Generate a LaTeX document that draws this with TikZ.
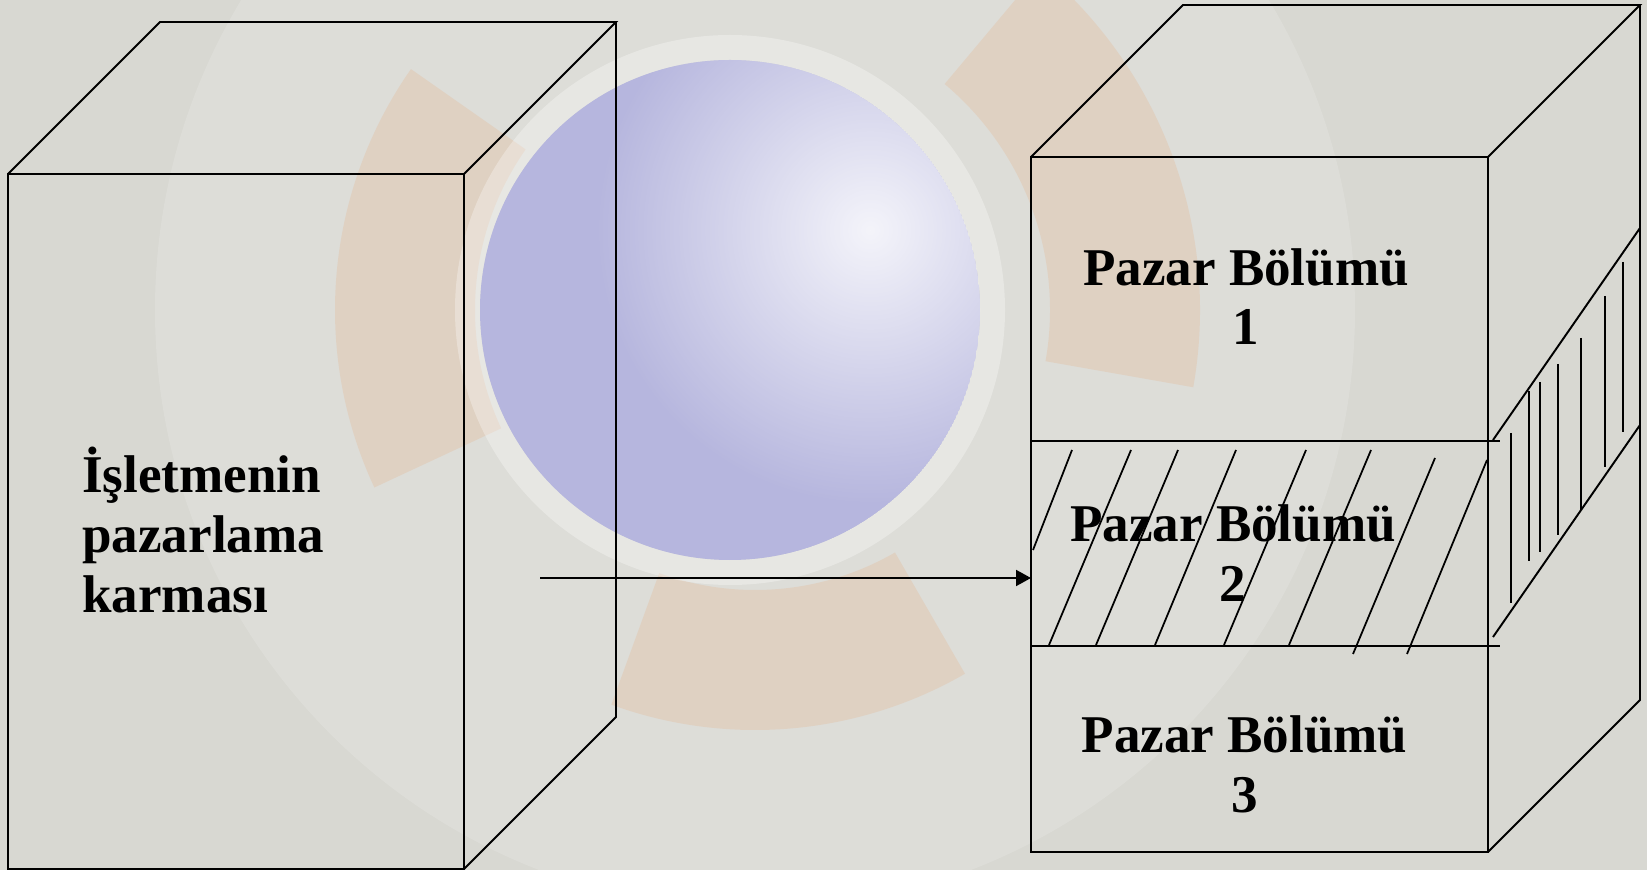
\documentclass[tikz,border=0pt]{standalone}
\usepackage{fontspec}
\setmainfont{Liberation Serif}
\usetikzlibrary{arrows.meta,fadings}
\definecolor{slidebg}{RGB}{216,216,210}
\definecolor{discblue}{RGB}{182,182,222}
\definecolor{ringorange}{RGB}{232,168,118}
\tikzfading[name=glow,inner color=transparent!0,outer color=transparent!100]
\tikzset{
  cubeline/.style={line width=1.1pt},
  hatch/.style={line width=1pt},
  segtext/.style={font=\fontsize{30.2}{34}\selectfont\bfseries,inner sep=0pt}
}
\begin{document}
\begin{tikzpicture}[>={Triangle[length=0.3cm,width=0.32cm]}]
    \useasboundingbox (0,0) rectangle (32.94,17.4);
    % --- faded slide background ---
    \fill[slidebg] (0,0) rectangle (32.94,17.4);
    \fill[white,opacity=0.15] (15.1,11.2) circle (12);
    \fill[ringorange,opacity=0.22] (15.1,11.2) ++(145:5.6)
      arc[start angle=145,end angle=205,radius=5.6] -- ++(205:2.8)
      arc[start angle=205,end angle=145,radius=8.4] -- cycle;
    \fill[ringorange,opacity=0.22] (15.1,11.2) ++(250:5.6)
      arc[start angle=250,end angle=300,radius=5.6] -- ++(300:2.8)
      arc[start angle=300,end angle=250,radius=8.4] -- cycle;
    \fill[ringorange,opacity=0.22] (15.1,11.2) ++(-10:5.9)
      arc[start angle=-10,end angle=50,radius=5.9] -- ++(50:3.0)
      arc[start angle=50,end angle=-10,radius=8.9] -- cycle;
    \draw[white,opacity=0.3,line width=0.5cm] (14.6,11.2) circle (5.25);
    \begin{scope}
      \clip (14.6,11.2) circle (5);
      \fill[discblue] (14.6,11.2) circle (5);
      \fill[white,opacity=0.85,path fading=glow] (17.4,12.8) circle (5.5);
    \end{scope}
    % --- marketing mix cube ---
    \draw[cubeline] (0.16,0.02) rectangle (9.28,13.92);
    \draw[cubeline] (0.16,13.92) -- (3.20,16.96) -- (12.32,16.96) -- (9.28,13.92);
    \draw[cubeline] (12.32,16.96) -- (12.32,3.06) -- (9.28,0.02);
    \node[segtext,anchor=base west,align=left] (mix) at (1.64,5.16)
      {İşletmenin\\pazarlama\\karması};
    % --- market cube, three segments ---
    \draw[cubeline] (20.62,0.36) rectangle (29.76,14.26);
    \draw[cubeline] (20.62,14.26) -- (23.66,17.30) -- (32.80,17.30) -- (29.76,14.26);
    \draw[cubeline] (32.80,17.30) -- (32.80,3.40) -- (29.76,0.36);
    \draw[cubeline] (20.62,8.58) -- (30.0,8.58);
    \draw[cubeline] (20.62,4.48) -- (30.0,4.48);
    % the chosen segment, hatched on the front and the side
    \foreach \xt/\yt/\xb/\yb in {21.44/8.40/20.66/6.40, 22.62/8.40/20.98/4.50,
        23.56/8.40/21.92/4.50, 24.72/8.40/23.10/4.50, 26.12/8.40/24.48/4.50,
        27.42/8.40/25.78/4.50, 28.70/8.24/27.06/4.32, 29.74/8.20/28.14/4.32}
      \draw[hatch] (\xt,\yt) -- (\xb,\yb);
    \draw[cubeline] (29.86,8.60) -- (32.80,12.84);
    \draw[cubeline] (29.86,4.66) -- (32.80,8.90);
    \foreach \x/\yt/\yb in {30.22/8.74/5.34, 30.58/9.58/6.18, 30.80/9.76/6.36,
        31.16/10.12/6.70, 31.62/10.64/7.20, 32.10/11.48/8.06, 32.46/12.16/8.76}
      \draw[hatch] (\x,\yt) -- (\x,\yb);
    % anchor=base sits on the last line
    \node[segtext,anchor=base,align=center] (seg1) at (24.92,10.50) {Pazar Bölümü\\1};
    \node[segtext,anchor=base,align=center] (seg2) at (24.66,5.38) {Pazar Bölümü\\2};
    \node[segtext,anchor=base,align=center] (seg3) at (24.89,1.16) {Pazar Bölümü\\3};
    % mix aimed at segment 2
    \coordinate (mixout) at (10.80,5.84);
    \coordinate (segin) at (20.62,5.84);
    \draw[->,cubeline] (mixout) -- (segin);
  \end{tikzpicture}
\end{document}
